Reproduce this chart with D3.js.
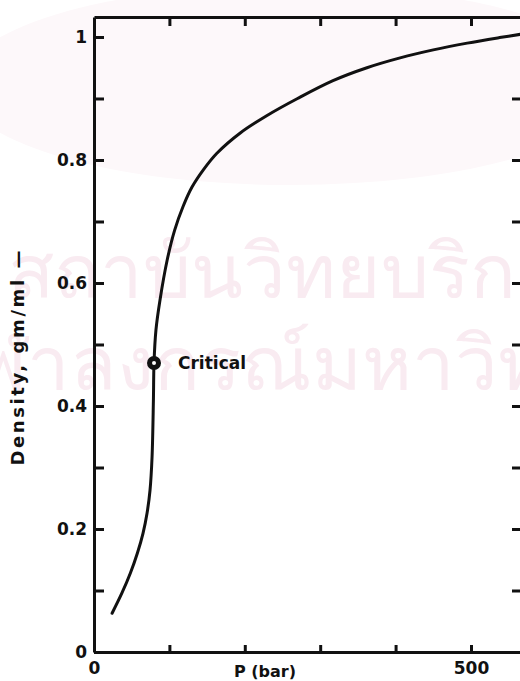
<!DOCTYPE html>
<html>
<head>
<meta charset="utf-8">
<script src="https://cdn.jsdelivr.net/npm/d3@7"></script>
<style>
  body { margin: 0; background: #fff; }
  svg { display: block; }
  text { font-family: "DejaVu Sans", sans-serif; font-weight: bold; fill: #111; }
</style>
</head>
<body>
<div id="chart"></div>
<script>
const pressure = [24, 37.1, 48.3, 57.6, 65, 70.4, 74.3, 77, 78.8, 79.6, 82.2, 87.5, 97, 107, 118, 130, 145, 163, 194, 229, 270, 317, 362, 406, 450, 495, 538, 569];
const density  = [0.063, 0.096, 0.1285, 0.161, 0.193, 0.226, 0.263, 0.317, 0.41, 0.47, 0.524, 0.572, 0.637, 0.686, 0.724, 0.756, 0.784, 0.811, 0.844, 0.872, 0.900, 0.929, 0.950, 0.966, 0.979, 0.990, 0.999, 1.005];

const criticalP = [79.6];
const criticalD = [0.47];
const criticalLabel = ['Critical'];

const xTicks = [0, 100, 200, 300, 400, 500];
const xTickLabels = ['0', '', '', '', '', '500'];
const yTicks = [0, 0.1, 0.2, 0.3, 0.4, 0.5, 0.6, 0.7, 0.8, 0.9, 1];
const yTickLabels = ['0', '', '0.2', '', '0.4', '', '0.6', '', '0.8', '', '1'];

const xTitle = 'P (bar)';
const yTitle = 'Density, gm/ml —';
const watermark = ['สถาบันวิทยบริการ', 'จุฬาลงกรณ์มหาวิทยาลัย'];

const width = 520, height = 681;

const svg = d3.select('#chart').append('svg')
  .attr('width', width)
  .attr('height', height);

// faint watermark of the scanned page
svg.append('ellipse')
  .attr('cx', 290).attr('cy', 85).attr('rx', 330).attr('ry', 100)
  .attr('fill', '#fdf8fa');
svg.selectAll('.wm')
  .data(watermark)
  .enter()
  .append('text')
  .attr('class', 'wm')
  .attr('x', (d, i) => i === 0 ? 8 : -70)
  .attr('y', (d, i) => 298 + i * 92)
  .style('font-family', 'sans-serif')
  .style('font-weight', 'normal')
  .style('font-size', '76px')
  .style('fill', '#f9ebf1')
  .text(d => d);

const x = d3.scaleLinear().domain([0, 569]).range([94, 523]);
const y = d3.scaleLinear().domain([0, 1.0325]).range([652, 17]);

const axisStyle = g => {
  g.select('.domain').attr('stroke', '#111').attr('stroke-width', 3);
  g.selectAll('.tick line').attr('stroke', '#111').attr('stroke-width', 3);
  g.selectAll('.tick text').style('font-size', '17px').style('font-family', '"DejaVu Sans", sans-serif').attr('fill', '#111');
};

// left axis
svg.append('g')
  .attr('transform', `translate(${x(0)},0)`)
  .call(d3.axisLeft(y).tickValues(yTicks).tickSize(-10).tickSizeOuter(0).tickPadding(7)
    .tickFormat((d, i) => yTickLabels[i]))
  .call(axisStyle);

// right axis (frame, just off the page)
svg.append('g')
  .attr('transform', `translate(${x(569)},0)`)
  .call(d3.axisRight(y).tickValues(yTicks.slice(1, 10)).tickSize(-11).tickSizeOuter(0).tickFormat(''))
  .call(axisStyle);

// bottom axis
svg.append('g')
  .attr('transform', `translate(0,${y(0)})`)
  .call(d3.axisBottom(x).tickValues(xTicks).tickSize(-7).tickSizeOuter(0).tickPadding(10)
    .tickFormat((d, i) => xTickLabels[i]))
  .call(axisStyle);

// top axis
svg.append('g')
  .attr('transform', `translate(0,${y(1.0325)})`)
  .call(d3.axisTop(x).tickValues(xTicks.slice(1)).tickSize(-9).tickSizeOuter(0).tickFormat(''))
  .call(axisStyle);

// isotherm
const line = d3.line()
  .x(d => x(d[0]))
  .y(d => y(d[1]))
  .curve(d3.curveCatmullRom.alpha(0.5));

svg.append('path')
  .datum(d3.zip(pressure, density))
  .attr('d', line)
  .attr('fill', 'none')
  .attr('stroke', '#111')
  .attr('stroke-width', 3)
  .attr('stroke-linecap', 'round');

// critical point
svg.selectAll('.crit')
  .data(d3.zip(criticalP, criticalD, criticalLabel))
  .enter()
  .append('circle')
  .attr('cx', d => x(d[0]))
  .attr('cy', d => y(d[1]))
  .attr('r', 4.5)
  .attr('fill', '#fff')
  .attr('stroke', '#111')
  .attr('stroke-width', 5);

svg.selectAll('.critlabel')
  .data(d3.zip(criticalP, criticalD, criticalLabel))
  .enter()
  .append('text')
  .attr('x', d => x(d[0]) + 24)
  .attr('y', d => y(d[1]) + 6)
  .style('font-size', '17px')
  .text(d => d[2]);

// axis titles
svg.append('text')
  .attr('x', 265)
  .attr('y', 677)
  .attr('text-anchor', 'middle')
  .style('font-size', '16px')
  .text(xTitle);

svg.append('text')
  .attr('transform', 'translate(24,358) rotate(-90)')
  .attr('text-anchor', 'middle')
  .attr('textLength', 215)
  .attr('lengthAdjust', 'spacing')
  .style('font-size', '18px')
  .text(yTitle);
</script>
</body>
</html>
